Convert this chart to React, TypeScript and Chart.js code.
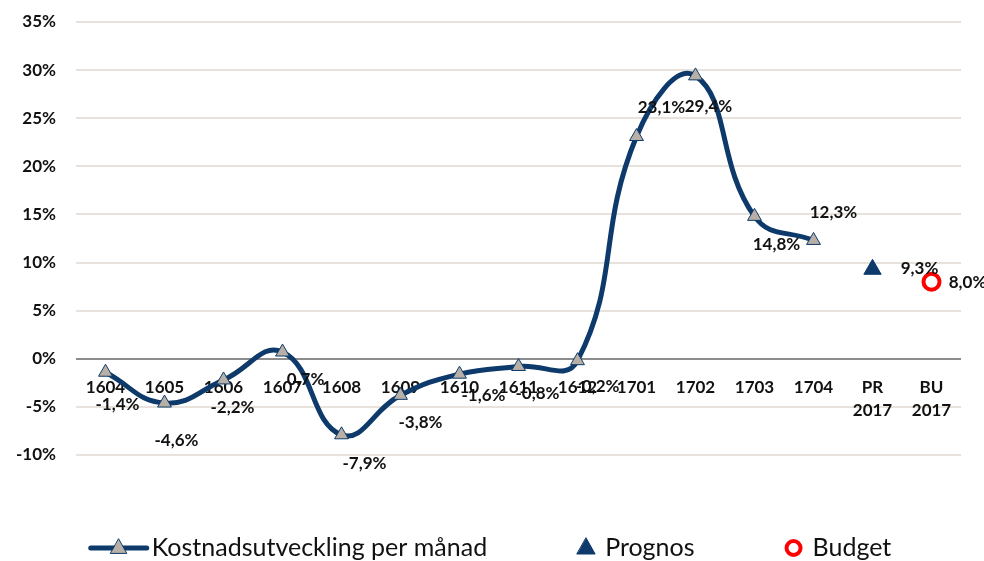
import React, { useEffect, useRef } from "react";
import { Chart, registerables } from "chart.js";

Chart.register(...registerables);

const CATEGORIES: (string | string[])[] = [
  "1604", "1605", "1606", "1607", "1608", "1609", "1610", "1611", "1612",
  "1701", "1702", "1703", "1704", ["PR", "2017"], ["BU", "2017"],
];
const KOSTNAD = [-1.4, -4.6, -2.2, 0.7, -7.9, -3.8, -1.6, -0.8, -0.2, 23.1, 29.4, 14.8, 12.3, null, null];
const PROGNOS = [null, null, null, null, null, null, null, null, null, null, null, null, null, 9.3, null];
const BUDGET = [null, null, null, null, null, null, null, null, null, null, null, null, null, null, 8.0];
const SERIES_NAMES = ["Kostnadsutveckling per månad", "Prognos", "Budget"];
const Y_MIN = -10;
const Y_MAX = 35;
const Y_STEP = 5;

// label placement offsets (dx, dy) relative to each point
const KOSTNAD_LABEL_OFFSETS = [
  [12, 32], [12, 37], [9, 28], [23, 27], [23, 29], [20, 27], [24, 21], [19, 27], [20, 26],
  [25, -29], [13, 31], [22, 28], [20, -28], [0, 0], [0, 0],
];
const PROGNOS_LABEL_OFFSET = [47, -1];
const BUDGET_LABEL_OFFSET = [36, 1];

const NAVY = "#0d3a6b";
const GRAYFILL = "#b8b0a6";
const RED = "#ff0000";
const TEXT = "#111111";
const FONT = "Lato, 'Open Sans', sans-serif";

const fmt = (v: number) => v.toFixed(1).replace(".", ",") + "%";

const labelPlugin = {
  id: "pointLabels",
  afterDatasetsDraw(chart: any) {
    const ctx = chart.ctx;
    ctx.save();
    ctx.font = `bold 17px ${FONT}`;
    ctx.fillStyle = TEXT;
    ctx.textAlign = "center";
    ctx.textBaseline = "middle";
    chart.data.datasets.forEach((ds: any, di: number) => {
      const meta = chart.getDatasetMeta(di);
      meta.data.forEach((el: any, i: number) => {
        const v = ds.data[i];
        if (v === null || v === undefined) return;
        let off = [0, 0];
        if (di === 0) off = KOSTNAD_LABEL_OFFSETS[i];
        else if (di === 1) off = PROGNOS_LABEL_OFFSET;
        else off = BUDGET_LABEL_OFFSET;
        ctx.fillText(fmt(v), el.x + off[0], el.y + off[1]);
      });
    });
    ctx.restore();
  },
};

const legendPlugin = {
  id: "customLegend",
  afterDraw(chart: any) {
    const ctx = chart.ctx;
    ctx.save();
    ctx.font = `25px ${FONT}`;
    ctx.textBaseline = "middle";
    ctx.textAlign = "left";
    const y = 548;
    const gap = 88;
    const w0 = 60 + 3 + ctx.measureText(SERIES_NAMES[0]).width;
    const w1 = 22 + 8 + ctx.measureText(SERIES_NAMES[1]).width;
    const w2 = 22 + 8 + ctx.measureText(SERIES_NAMES[2]).width;
    const total = w0 + w1 + w2 + 2 * gap;
    let x = 490 - total / 2;
    ctx.strokeStyle = NAVY;
    ctx.lineWidth = 5;
    ctx.lineCap = "round";
    ctx.beginPath();
    ctx.moveTo(x + 2, y);
    ctx.lineTo(x + 58, y);
    ctx.stroke();
    const tri = (cx: number, cy: number, r: number, fill: string, stroke: string) => {
      ctx.beginPath();
      ctx.moveTo(cx, cy - r);
      ctx.lineTo(cx + r * 0.9, cy + r * 0.6);
      ctx.lineTo(cx - r * 0.9, cy + r * 0.6);
      ctx.closePath();
      ctx.fillStyle = fill;
      ctx.fill();
      ctx.lineWidth = 1;
      ctx.strokeStyle = stroke;
      ctx.stroke();
    };
    tri(x + 30, y, 9, GRAYFILL, NAVY);
    ctx.fillStyle = TEXT;
    ctx.fillText(SERIES_NAMES[0], x + 63, y);
    x += w0 + gap;
    tri(x + 11, y, 10, NAVY, NAVY);
    ctx.fillStyle = TEXT;
    ctx.fillText(SERIES_NAMES[1], x + 30, y);
    x += w1 + gap;
    ctx.beginPath();
    ctx.arc(x + 11, y, 7, 0, Math.PI * 2);
    ctx.lineWidth = 4;
    ctx.strokeStyle = RED;
    ctx.fillStyle = "#fff";
    ctx.fill();
    ctx.stroke();
    ctx.fillStyle = TEXT;
    ctx.fillText(SERIES_NAMES[2], x + 30, y);
    ctx.restore();
  },
};

export default function App() {
  const ref = useRef<HTMLCanvasElement | null>(null);
  useEffect(() => {
    if (!ref.current) return;
    const chart = new Chart(ref.current, {
      type: "line",
      data: {
        labels: CATEGORIES,
        datasets: [
          {
            label: SERIES_NAMES[0],
            data: KOSTNAD,
            borderColor: NAVY,
            borderWidth: 5,
            tension: 0.45,
            pointStyle: "triangle",
            pointRadius: 8,
            pointBackgroundColor: GRAYFILL,
            pointBorderColor: NAVY,
            pointBorderWidth: 1,
            spanGaps: false,
            order: 2,
          },
          {
            label: SERIES_NAMES[1],
            data: PROGNOS,
            showLine: false,
            pointStyle: "triangle",
            pointRadius: 10,
            pointBackgroundColor: NAVY,
            pointBorderColor: NAVY,
            pointBorderWidth: 1,
            order: 1,
          },
          {
            label: SERIES_NAMES[2],
            data: BUDGET,
            showLine: false,
            pointStyle: "circle",
            pointRadius: 8,
            pointBackgroundColor: "#ffffff",
            pointBorderColor: RED,
            pointBorderWidth: 4,
            order: 0,
          },
        ],
      },
      options: {
        animation: false,
        responsive: true,
        maintainAspectRatio: false,
        layout: { padding: { top: 22, right: 23, bottom: 106, left: 0 } },
        plugins: { legend: { display: false }, tooltip: { enabled: false }, title: { display: false } },
        scales: {
          x: {
            position: { y: 0 } as any,
            offset: true,
            grid: { display: false, drawTicks: false },
            border: { display: false },
            ticks: {
              padding: 17,
              maxRotation: 0,
              autoSkip: false,
              color: TEXT,
              font: { family: FONT, size: 17, weight: "bold", lineHeight: 1.35 },
            },
          },
          y: {
            min: Y_MIN,
            max: Y_MAX,
            afterFit: (s: any) => {
              s.width = 76;
            },
            grid: {
              drawTicks: true,
              tickLength: 16,
              tickColor: "rgba(0,0,0,0)",
              lineWidth: 2,
              color: (c: any) => (c.tick && c.tick.value === 0 ? "#8c8c8c" : "#e7e3dc"),
            },
            border: { display: false },
            ticks: {
              stepSize: Y_STEP,
              padding: 4,
              color: TEXT,
              font: { family: FONT, size: 17, weight: "bold" },
              callback: (v: any) => v + "%",
            },
          },
        },
      },
      plugins: [labelPlugin, legendPlugin],
    });
    return () => chart.destroy();
  }, []);
  return (
    <div style={{ position: "fixed", left: 0, top: 0, width: 984, height: 561, background: "#fff" }}>
      <canvas ref={ref} />
    </div>
  );
}
